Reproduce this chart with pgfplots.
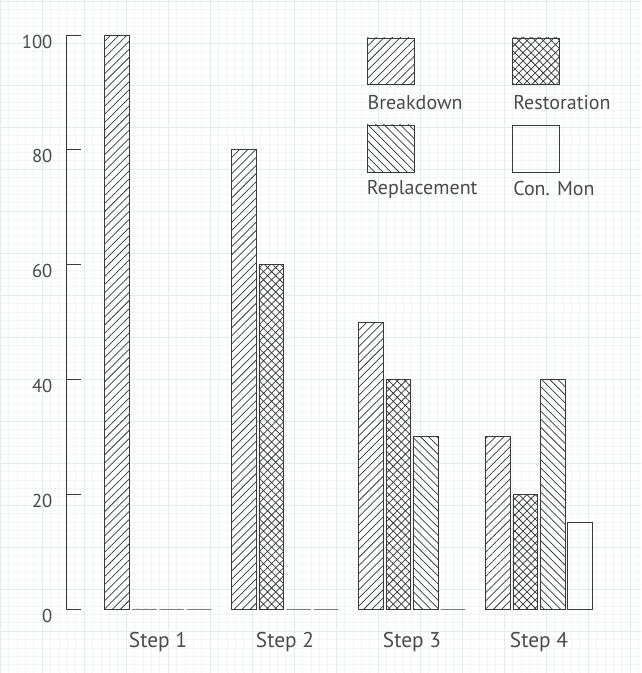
\documentclass[border=0pt]{standalone}
\usepackage{fontspec}
\setmainfont{PT Sans}
\usepackage{pgfplots}
\pgfplotsset{compat=1.18}
\usetikzlibrary{patterns.meta}
\definecolor{ink}{HTML}{3A3A3A}
\definecolor{txt}{HTML}{4A4A4A}
\definecolor{gridminor}{HTML}{F1F5F7}
\definecolor{gridmajor}{HTML}{E3EBEF}
\tikzset{
 pBreak/.style={pattern={Lines[angle=45,distance=4.3pt,line width=0.55pt]}, pattern color=ink},
 pRest/.style={pattern={Hatch[angle=45,distance=4.3pt,line width=0.55pt]}, pattern color=ink},
 pRepl/.style={pattern={Lines[angle=-45,distance=4.3pt,line width=0.55pt]}, pattern color=ink},
}
\begin{document}
\begin{tikzpicture}[x=1pt,y=1pt]
\useasboundingbox (0,0) rectangle (480.75,504.75);
\fill[white] (0,0) rectangle (480.75,504.75);
\draw[gridminor, line width=0.3pt, step=6.3] (0,0) grid (480.75,504.75);
\draw[gridmajor, line width=0.4pt, step=31.5] (0,0) grid (480.75,504.75);
\begin{axis}[
 at={(49.5pt,48pt)}, anchor=south west,
 scale only axis, width=415.5pt, height=430.5pt,
 xmin=-0.724, xmax=3.638, ymin=0, ymax=100,
 axis x line=bottom, axis y line=left,
 axis line style={-, draw=ink, line width=0.7pt},
 x axis line style={draw=none},
 ybar=2pt, bar width=18.5pt,
 xtick={0,1,2,3}, xticklabels={Step 1, Step 2, Step 3, Step 4},
 ytick={0,20,40,60,80,100},
 tick align=inside,
 major tick length=11pt,
 xtick style={draw=none},
 ytick style={draw=ink, line width=0.7pt},
 /pgf/number format/assume math mode=true,
 tick label style={text=txt},
 yticklabel style={font=\fontsize{14}{16}\selectfont, inner sep=0pt, xshift=-10pt, yshift=-5pt},
 xticklabel style={font=\fontsize{16}{18}\selectfont, inner sep=0pt, yshift=-17pt},
 clip=false,
]
\addplot[draw=ink, line width=0.6pt, pBreak] coordinates {(0,100) (1,80) (2,50) (3,30)};
\addplot[draw=ink, line width=0.6pt, pRest] coordinates {(0,0) (1,60) (2,40) (3,20)};
\addplot[draw=ink, line width=0.6pt, pRepl] coordinates {(0,0) (1,0) (2,30) (3,40)};
\addplot[draw=ink, line width=0.6pt, fill=none] coordinates {(0,0) (1,0) (2,0) (3,15)};
\end{axis}
% legend
\draw[ink, line width=0.6pt, pBreak] (275.25,441.75) rectangle (310.5,476.25);
\draw[ink, line width=0.6pt, pRest] (384,441.75) rectangle (419.25,476.25);
\draw[ink, line width=0.6pt, pRepl] (275.25,375.75) rectangle (310.5,411);
\draw[ink, line width=0.6pt] (384,375.75) rectangle (419.25,411);
\begin{scope}[every node/.style={anchor=west, inner sep=0pt, text=txt, font=\fontsize{15}{17}\selectfont}]
\node at (275.5,427.5) {Breakdown};
\node at (384.75,427.5) {Restoration};
\node at (275,363) {Replacement};
\node at (384.75,363) {Con. Mon};
\end{scope}
\end{tikzpicture}
\end{document}
